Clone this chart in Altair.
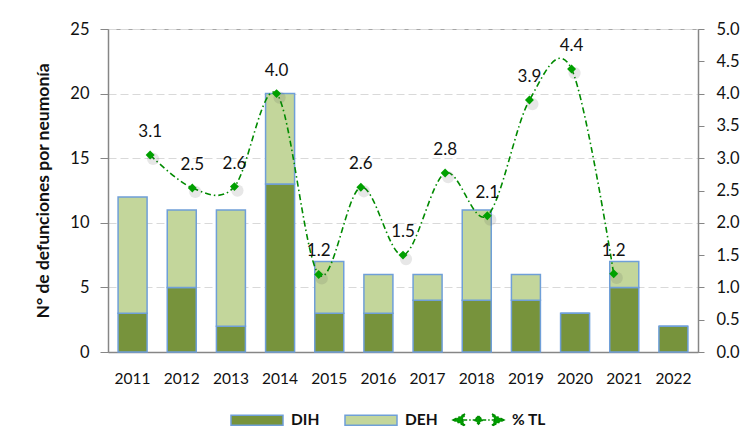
import altair as alt
import pandas as pd

years = ["2011", "2012", "2013", "2014", "2015", "2016", "2017", "2018", "2019", "2020", "2021", "2022"]
dih = [3, 5, 2, 13, 3, 3, 4, 4, 4, 3, 5, 2]
deh = [9, 6, 9, 7, 4, 3, 2, 7, 2, 0, 2, 0]
tl_values = [3.05, 2.54, 2.56, 4.0, 1.2, 2.55, 1.5, 2.77, 2.11, 3.9, 4.38, 1.21]
tl_labels = ["3.1", "2.5", "2.6", "4.0", "1.2", "2.6", "1.5", "2.8", "2.1", "3.9", "4.4", "1.2"]
left_ticks = [0, 5, 10, 15, 20, 25]
right_ticks = [0.0, 0.5, 1.0, 1.5, 2.0, 2.5, 3.0, 3.5, 4.0, 4.5, 5.0]

FONT = "Lato"
DARK = "#77933C"
LIGHT = "#C3D69B"
EDGE = "#6F9FD8"
LINE = "#008A00"
MARK = "#00A000"
AXIS = "#868686"

bars_df = pd.DataFrame(
    [{"year": y, "serie": "DIH", "ord": 0, "n": v} for y, v in zip(years, dih)]
    + [{"year": y, "serie": "DEH", "ord": 1, "n": v} for y, v in zip(years, deh)]
)
line_df = pd.DataFrame({
    "year": years,
    "idx": list(range(len(years))),
    "tl": tl_values,
    "label": tl_labels,
    "serie": ["% TL"] * len(years),
})

rect_path = "M-1,-0.19L1,-0.19L1,0.19L-1,0.19Z"
line_path = ("M-1,0L-0.52,-0.24L-0.64,0L-0.52,0.24Z"
             "M-0.6,0L0.6,0"
             "M0,-0.16L0.16,0L0,0.16L-0.16,0Z"
             "M1,0L0.52,-0.24L0.64,0L0.52,0.24Z")

bars = alt.Chart(bars_df).mark_bar(stroke=EDGE, strokeWidth=1.5).encode(
    x=alt.X("year:N", sort=years, title=None,
            scale=alt.Scale(paddingInner=0.41, paddingOuter=0.205),
            axis=alt.Axis(labelAngle=0, labelFont=FONT, labelFontSize=15.5, labelColor="#111",
                          ticks=False, tickSize=0, labelPadding=19,
                          domainColor=AXIS, domainWidth=1.5)),
    y=alt.Y("n:Q", stack="zero", title="N° de defunciones por neumonía",
            scale=alt.Scale(domain=[0, 25], nice=False),
            axis=alt.Axis(values=left_ticks, labelFont=FONT, labelFontSize=16.5, labelColor="#111",
                          tickSize=8, tickColor=AXIS, labelPadding=11,
                          domainColor=AXIS, domainWidth=1.5,
                          grid=True, gridColor="#D9D9D9", gridDash=[8, 4], gridWidth=1,
                          titleFont=FONT, titleFontSize=17.5, titleFontWeight="bold",
                          titleColor="#111", titleX=-65, titleBaseline="middle")),
    fill=alt.Fill("serie:N",
                  scale=alt.Scale(domain=["DIH", "DEH"], range=[DARK, LIGHT]),
                  legend=alt.Legend(title=None, orient="none", legendX=122, legendY=364,
                                    direction="horizontal", padding=0,
                                    symbolType=rect_path, symbolSize=2704,
                                    symbolStrokeColor=EDGE, symbolStrokeWidth=1.5,
                                    labelOffset=7, columnPadding=22,
                                    labelFont=FONT, labelFontSize=15.5, labelFontWeight="bold",
                                    labelColor="#111")),
    order=alt.Order("ord:Q"),
)

xq = alt.X("idx:Q", scale=alt.Scale(domain=[-1, 13]), axis=None)
yq = alt.Y("tl:Q", scale=alt.Scale(domain=[0, 5], nice=False),
           axis=alt.Axis(orient="right", values=right_ticks, format=".1f", title=None,
                         labelFont=FONT, labelFontSize=16.5, labelColor="#111",
                         tickSize=6, tickColor=AXIS, labelPadding=12,
                         domainColor=AXIS, domainWidth=1.5, grid=False))

base = alt.Chart(line_df)
line = base.mark_line(color=LINE, strokeWidth=1.6, strokeDash=[6, 3, 1.5, 3],
                      interpolate="cardinal").encode(x=xq, y=yq)
shadow = base.mark_point(shape="circle", filled=True, color="#444444", opacity=0.13,
                         size=150, xOffset=3, yOffset=4).encode(x=xq, y=yq)
pts = base.mark_point(shape="diamond", filled=True, size=80, opacity=1).encode(
    x=xq, y=yq,
    color=alt.Color("serie:N", scale=alt.Scale(domain=["% TL"], range=[MARK]),
                    legend=alt.Legend(title=None, orient="none", legendX=344, legendY=364.5,
                                      direction="horizontal", padding=0,
                                      symbolType=line_path, symbolSize=2601,
                                      symbolStrokeColor=LINE, symbolStrokeWidth=1.5,
                                      symbolDash=[4, 2, 1.5, 2],
                                      labelOffset=7,
                                      labelFont=FONT, labelFontSize=15.5, labelFontWeight="bold",
                                      labelColor="#111")),
)
labels = base.mark_text(dy=-23, font=FONT, fontSize=17, color="#111").encode(
    x=xq, y=yq, text="label:N")

chart = alt.layer(bars, alt.layer(line, shadow, pts, labels)).resolve_scale(
    x="independent", y="independent"
).properties(
    width=590, height=323,
    padding={"left": 100, "top": 21, "right": 47, "bottom": 83},
    autosize=alt.AutoSizeParams(type="none"),
).configure_view(stroke="#A6A6A6", strokeWidth=1)

chart.save("out.html", embed_options={"renderer": "svg", "actions": False})
